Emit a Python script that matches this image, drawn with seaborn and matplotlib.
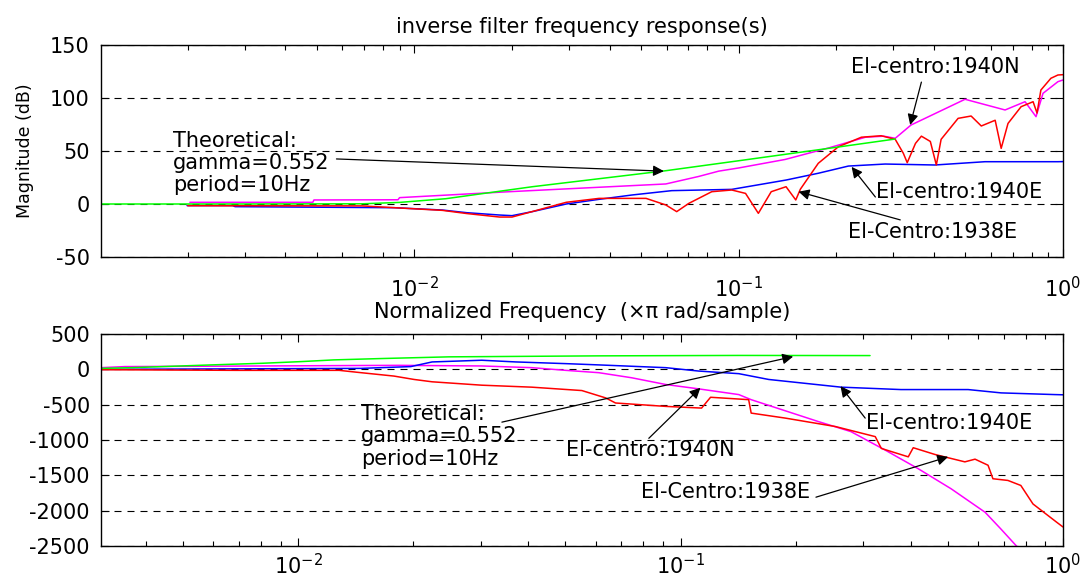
import numpy as np
import pandas as pd
import matplotlib
matplotlib.use('Agg')
import matplotlib.pyplot as plt
import seaborn as sns

# ---- top panel: magnitude (dB) ----
top_theo_f = [0.00108, 0.003, 0.0069, 0.009, 0.0125, 0.0231, 0.0596, 0.1, 0.2, 0.304]
top_theo_db = [0, 0, 0.2, 1.5, 5, 16.3, 31.4, 40.8, 53.5, 61.3]

top_n_f = [0.00203, 0.00486, 0.0049, 0.0089, 0.009, 0.0196, 0.0596, 0.0753, 0.0868, 0.1,
           0.139, 0.19, 0.246, 0.28, 0.304, 0.34, 0.499, 0.663, 0.764, 0.826, 0.868, 0.965, 1.0]
top_n_db = [1.6, 1.6, 3.8, 4, 6, 11.6, 18.9, 26, 31, 34,
            42, 53, 63, 64, 62, 74.5, 98.8, 88.7, 96.5, 82.4, 104.4, 115.4, 117]

top_e_f = [0.00199, 0.00275, 0.0028, 0.00868, 0.0122, 0.0145, 0.0183, 0.02, 0.0231, 0.0294,
           0.0371, 0.0469, 0.0622, 0.0952, 0.14, 0.176, 0.218, 0.283, 0.403, 0.575, 0.965, 1.0]
top_e_db = [-1.5, -1.5, -2.5, -3.5, -5.7, -8.2, -10.4, -11, -7.2, 0,
            4.4, 8.5, 12.6, 13.8, 22.6, 29, 35.8, 37.7, 36.8, 39.9, 39.9, 40]

top_c_f = [0.002, 0.0069, 0.0122, 0.0145, 0.0183, 0.02, 0.0211, 0.0294, 0.0371, 0.0518,
           0.0596, 0.0644, 0.0702, 0.0826, 0.0952, 0.105, 0.115, 0.126, 0.14, 0.15,
           0.155, 0.176, 0.203, 0.239, 0.275, 0.304, 0.322, 0.331, 0.351, 0.366,
           0.39, 0.407, 0.421, 0.475, 0.521, 0.56, 0.618, 0.645, 0.677, 0.743,
           0.809, 0.832, 0.855, 0.918, 0.965, 1.0]
top_c_db = [-1.6, -1.8, -6, -9, -12.3, -12.3, -10.4, 1.6, 5.3, 5.3,
            -0.9, -7.2, 0.6, 11.6, 13.2, 10, -8.8, 11.6, 16.3, 3.8,
            14, 38.4, 54, 63, 64.4, 61, 47.8, 39, 57.2, 64,
            59, 36.8, 61, 80.8, 83, 73.6, 79, 52.5, 76, 91.8,
            96.5, 85.8, 107.5, 118.6, 121.7, 122]

# ---- bottom panel ----
bot_theo_f = [0.002, 0.00305, 0.00373, 0.00593, 0.00805, 0.0102, 0.0124, 0.0165, 0.0248, 0.0611, 0.142, 0.313]
bot_theo_v = [0, 14, 25, 63, 86, 110, 134, 153, 177, 191, 197, 195]

bot_n_f = [0.002, 0.00305, 0.00352, 0.0184, 0.0201, 0.0302, 0.0408, 0.0501, 0.0611, 0.0745,
           0.0914, 0.1115, 0.142, 0.153, 0.229, 0.279, 0.343, 0.418, 0.51, 0.626, 0.689, 0.763]
bot_n_v = [15, 24, 39, 57, 55, 48, 24, -14, -47, -119,
           -214, -276, -357, -429, -738, -881, -1143, -1405, -1690, -2023, -2262, -2524]

bot_e_f = [0.002, 0.00305, 0.0146, 0.0197, 0.0224, 0.0302, 0.0371, 0.0501, 0.0611, 0.0914,
           0.1115, 0.142, 0.17, 0.263, 0.377, 0.565, 0.689, 0.953, 1.0]
bot_e_v = [0, 0, 14, 39, 105, 129, 105, 81, 63, 24,
           -24, -61, -143, -252, -286, -286, -333, -357, -360]

bot_c_f = [0.002, 0.00689, 0.0128, 0.0146, 0.0178, 0.0201, 0.0224, 0.0302, 0.0408, 0.0552,
           0.0637, 0.0676, 0.0914, 0.1135, 0.1198, 0.142, 0.1507, 0.153, 0.188, 0.254,
           0.323, 0.335, 0.394, 0.406, 0.463, 0.554, 0.589, 0.637, 0.656, 0.718,
           0.776, 0.835, 0.965, 1.0]
bot_c_v = [0, -14, -14, -47, -95, -143, -176, -224, -252, -300,
           -404, -476, -524, -548, -395, -420, -429, -619, -690, -809,
           -952, -1119, -1238, -1109, -1205, -1309, -1271, -1357, -1548, -1572,
           -1643, -1905, -2167, -2230]

colors = {'theo': '#00ff00', 'n': '#ff00ff', 'e': '#0000ff', 'c': '#ff0000'}

sns.set_style('ticks')
plt.rcParams['font.family'] = ['DejaVu Sans']
plt.rcParams['mathtext.default'] = 'regular'
plt.rcParams['axes.unicode_minus'] = False
for k in ['text.color', 'axes.labelcolor', 'xtick.color', 'ytick.color', 'axes.edgecolor']:
    plt.rcParams[k] = 'black'

fig = plt.figure(figsize=(10.8, 5.77), dpi=100)
ax1 = fig.add_axes([0.0935, 0.5546, 0.8907, 0.3674])
ax2 = fig.add_axes([0.0935, 0.0537, 0.8907, 0.3674])

series_top = [(top_n_f, top_n_db, 'n'), (top_e_f, top_e_db, 'e'),
              (top_c_f, top_c_db, 'c'), (top_theo_f, top_theo_db, 'theo')]
series_bot = [(bot_n_f, bot_n_v, 'n'), (bot_e_f, bot_e_v, 'e'),
              (bot_c_f, bot_c_v, 'c'), (bot_theo_f, bot_theo_v, 'theo')]

for ax, series in [(ax1, series_top), (ax2, series_bot)]:
    for f, v, key in series:
        sns.lineplot(x=f, y=v, color=colors[key], lw=1.1, ax=ax,
                     estimator=None, sort=False)

arrow = dict(arrowstyle='-|>', color='k', lw=0.9, mutation_scale=16,
             shrinkA=0, shrinkB=0)
txt = dict(fontsize=15, ha='left', va='center')

# top annotations
ax1.annotate('', xy=(0.0588, 31), xytext=(0.00575, 42.5), arrowprops=arrow)
ax1.text(0.0018, 38.7, 'Theoretical:\ngamma=0.552\nperiod=10Hz', linespacing=1.15, **txt)
ax1.annotate('', xy=(0.338, 74.5), xytext=(0.366, 115), arrowprops=arrow)
ax1.text(0.222, 129, 'El-centro:1940N', **txt)
ax1.annotate('', xy=(0.223, 35), xytext=(0.264, 6.6), arrowprops=arrow)
ax1.text(0.266, 11.3, 'El-centro:1940E', **txt)
ax1.annotate('', xy=(0.153, 11.6), xytext=(0.315, -15), arrowprops=arrow)
ax1.text(0.218, -26.4, 'El-Centro:1938E', **txt)

# bottom annotations
ax2.annotate('', xy=(0.197, 181), xytext=(0.0341, -747), arrowprops=arrow)
ax2.text(0.0146, -947, 'Theoretical:\ngamma=0.552\nperiod=10Hz', linespacing=1.15, **txt)
ax2.annotate('', xy=(0.1127, -261), xytext=(0.0826, -976), arrowprops=arrow)
ax2.text(0.0501, -1143, 'El-centro:1940N', **txt)
ax2.annotate('', xy=(0.262, -238), xytext=(0.304, -690), arrowprops=arrow)
ax2.text(0.306, -762, 'El-centro:1940E', **txt)
ax2.annotate('', xy=(0.501, -1238), xytext=(0.226, -1809), arrowprops=arrow)
ax2.text(0.0787, -1733, 'El-Centro:1938E', **txt)

ax1.set_xscale('log')
ax2.set_xscale('log')
ax1.set_xlim(0.00108, 1)
ax2.set_xlim(0.00305, 1)
ax1.set_ylim(-50, 150)
ax1.set_yticks([-50, 0, 50, 100, 150])
ax2.set_ylim(-2500, 500)
ax2.set_yticks([-2500, -2000, -1500, -1000, -500, 0, 500])

for ax in (ax1, ax2):
    ax.yaxis.grid(True, linestyle=(0, (6.3, 5.4)), color='k', lw=0.8)
    ax.xaxis.grid(False)
    ax.tick_params(which='both', direction='in', top=True, right=True,
                   labelsize=15, width=0.8, color='k')
    ax.tick_params(which='major', length=6)
    ax.tick_params(which='minor', length=3.5)
    for s in ax.spines.values():
        s.set_color('k')
        s.set_linewidth(1.0)
        s.set_visible(True)

ax1.tick_params(axis='y', which='major', pad=8)
ax2.tick_params(axis='y', which='major', pad=8)
ax1.tick_params(axis='x', which='major', pad=14)
ax2.tick_params(axis='x', which='major', pad=5)

ax1.set_title('inverse filter frequency response(s)', fontsize=15, pad=9)
ax1.set_xlabel('Normalized Frequency  (\u00d7\u03c0 rad/sample)', fontsize=15, labelpad=0)
ax1.set_ylabel('Magnitude (dB)', fontsize=12.5)
ax1.yaxis.set_label_coords(-0.07, 0.5)
ax2.set_xlabel('')
ax2.set_ylabel('')

plt.savefig('out.png', dpi=100)
plt.close()
